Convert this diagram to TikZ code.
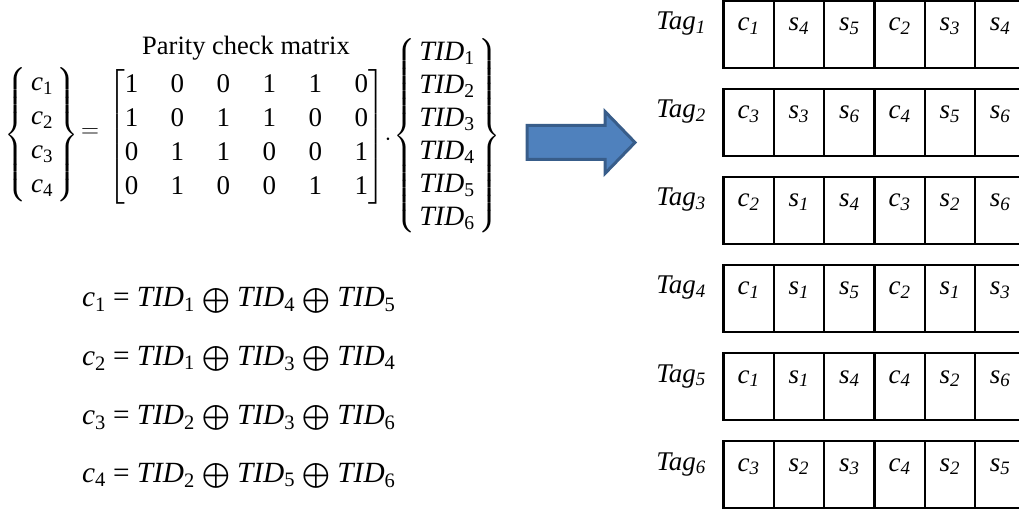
\documentclass[tikz,border=0pt]{standalone}
\usepackage{amsmath}
\usepackage{fontspec}
\setmainfont{Liberation Serif}
\usetikzlibrary{positioning}
\definecolor{arrowfill}{RGB}{79,129,189}
\definecolor{arrowline}{RGB}{56,93,138}
\newcommand{\ivar}[2]{\textit{#1}\textsubscript{#2}}
\tikzset{
every node/.style={inner sep=0pt, outer sep=0pt},
mathbig/.style={font=\fontsize{27}{34}\selectfont},
tidbig/.style={font=\fontsize{28}{33}\selectfont},
title/.style={font=\fontsize{26.5}{30}\selectfont},
eqline/.style={font=\fontsize{29.3}{34}\selectfont, anchor=base west},
taglabel/.style={font=\fontsize{27}{30}\selectfont\itshape, anchor=base},
celltext/.style={font=\fontsize{27}{30}\selectfont\itshape, anchor=base, yshift=-30pt},
cell/.style={draw, line width=2.4pt, minimum width=50.3pt, minimum height=67pt, anchor=north west},
blockarrow/.style={fill=arrowfill, draw=arrowline, line width=3pt, line join=miter},
}

\begin{document}
\begin{tikzpicture}[x=1pt, y=-1pt]
    \useasboundingbox (0,0) rectangle (1019,510);

    % parity check equation
    \node[title] (ptitle) at (246,48) {Parity check matrix};
    \node[mathbig] (cvec) at (42,135) {$\left\{\begin{tabular}{@{\hspace{4pt}}c@{\hspace{4pt}}}
        \ivar{c}{1}\\ \ivar{c}{2}\\ \ivar{c}{3}\\ \ivar{c}{4}
    \end{tabular}\right\}$};
    \node[mathbig, anchor=mid] (eq) at (90,135) {$=$};
    \node[mathbig] (hmat) at (246.5,137) {\tabcolsep=16.25pt$\left[\begin{tabular}{@{}cccccc@{}}
        1&0&0&1&1&0\\
        1&0&1&1&0&0\\
        0&1&1&0&0&1\\
        0&1&0&0&1&1
    \end{tabular}\right]$};
    \node[mathbig] (dot) at (388,140) {$\cdot$};
    \node[tidbig] (tidvec) at (447,136) {$\left\{\begin{tabular}{@{\hspace{4pt}}c@{\hspace{4pt}}}
        \ivar{TID}{1}\\ \ivar{TID}{2}\\ \ivar{TID}{3}\\
        \ivar{TID}{4}\\ \ivar{TID}{5}\\ \ivar{TID}{6}
    \end{tabular}\right\}$};

    % check node equations
    \node[eqline] (e1) at (82,307) {\ivar{c}{1} = \ivar{TID}{1} $\bigoplus$ \ivar{TID}{4} $\bigoplus$ \ivar{TID}{5}};
    \node[eqline] (e2) at (82,365) {\ivar{c}{2} = \ivar{TID}{1} $\bigoplus$ \ivar{TID}{3} $\bigoplus$ \ivar{TID}{4}};
    \node[eqline] (e3) at (82,424) {\ivar{c}{3} = \ivar{TID}{2} $\bigoplus$ \ivar{TID}{3} $\bigoplus$ \ivar{TID}{6}};
    \node[eqline] (e4) at (82,482) {\ivar{c}{4} = \ivar{TID}{2} $\bigoplus$ \ivar{TID}{5} $\bigoplus$ \ivar{TID}{6}};

    % block arrow
    \draw[blockarrow] (527,125.5) -- (605,125.5) -- (605,111.5) -- (635,142.5)
        -- (605,173.5) -- (605,159.5) -- (527,159.5) -- cycle;

    % tag memories
    \foreach \row/\cells in {1/{c/1,s/4,s/5,c/2,s/3,s/4},
                             2/{c/3,s/3,s/6,c/4,s/5,s/6},
                             3/{c/2,s/1,s/4,c/3,s/2,s/6},
                             4/{c/1,s/1,s/5,c/2,s/1,s/3},
                             5/{c/1,s/1,s/4,c/4,s/2,s/6},
                             6/{c/3,s/2,s/3,c/4,s/2,s/5}}{
        \node[taglabel] (t\row) at (681,{30+88*(\row-1)}) {Tag\textsubscript{\row}};
        \foreach \ltr/\num [count=\col] in \cells
            \node[cell, label={[celltext]north:\ltr\textsubscript{\num}}] (c\row-\col)
                at ({723.5+50.3*(\col-1)},{1+88*(\row-1)}) {};
    }
\end{tikzpicture}
\end{document}
